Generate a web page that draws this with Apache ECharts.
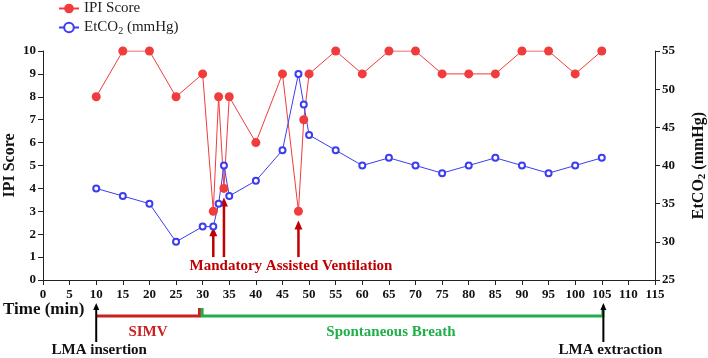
<!DOCTYPE html>
<html>
<head>
<meta charset="utf-8">
<script src="https://cdn.jsdelivr.net/npm/echarts@6/dist/echarts.min.js"></script>
<style>
html, body { margin: 0; padding: 0; background: #fff; }
#main { width: 708px; height: 358px; }
</style>
</head>
<body>
<div id="main"></div>
<script>
// time points (min)
var times = [10, 15, 20, 25, 30, 32, 33, 34, 35, 40, 45, 48, 49, 50, 55, 60, 65, 70, 75, 80, 85, 90, 95, 100, 105];
// IPI score (left axis)
var ipiScore = [8, 10, 10, 8, 9, 3, 8, 4, 8, 6, 9, 3, 7, 9, 10, 9, 10, 10, 9, 9, 9, 10, 10, 9, 10];
// EtCO2 mmHg (right axis)
var etco2 = [37, 36, 35, 30, 32, 32, 35, 40, 36, 38, 42, 52, 48, 44, 42, 40, 41, 40, 39, 40, 41, 40, 39, 40, 41];

// mandatory assisted ventilation arrows: time + tip (IPI units)
var mavTimes = [32, 34, 48];
var mavTips = [2.3, 3.6, 2.6];
// ventilation phases
var phaseNames = ['SIMV', 'Spontaneous Breath'];
var phaseStart = [10, 29.9];
var phaseEnd = [29.4, 105.2];
var phaseColors = ['#cc1f1f', '#1fb04a'];
// LMA events
var lmaNames = ['LMA insertion', 'LMA extraction'];
var lmaTimes = [10, 105.3];

var serif = '"Liberation Serif", "Times New Roman", serif';
var red = '#f03c3c';
var blue = '#3c3cf0';
var darkRed = '#c00000';

var chart = echarts.init(document.getElementById('main'));

function pairs(ys) {
  return times.map(function (t, i) { return [t, ys[i]]; });
}

chart.setOption({
  animation: false,
  textStyle: { fontFamily: serif },
  legend: {
    orient: 'vertical',
    left: 58,
    top: 1,
    padding: 0,
    itemWidth: 20,
    itemHeight: 12,
    itemGap: 4,
    textStyle: {
      fontFamily: serif, fontSize: 15, color: '#222',
      rich: {
        a: { fontFamily: serif, fontSize: 15, color: '#222' },
        s: { fontFamily: serif, fontSize: 10, color: '#222', padding: [7, 0, 0, 0] }
      }
    },
    formatter: function (name) {
      return name === 'EtCO2 (mmHg)' ? '{a|EtCO}{s|2}{a| (mmHg)}' : name;
    },
    data: ['IPI Score', 'EtCO2 (mmHg)']
  },
  grid: { left: 43, right: 53, top: 51, bottom: 78, outerBoundsMode: 'none', containLabel: false },
  xAxis: {
    type: 'value',
    min: 0,
    max: 115,
    interval: 5,
    axisLine: { lineStyle: { color: '#222', width: 1 } },
    axisTick: { length: 5, lineStyle: { color: '#222' } },
    axisLabel: { fontFamily: serif, fontWeight: 'bold', fontSize: 13, color: '#111', margin: 8 },
    splitLine: { show: false }
  },
  yAxis: [
    {
      type: 'value',
      min: 0,
      max: 10,
      interval: 1,
      name: 'IPI Score',
      nameLocation: 'middle',
      nameGap: 25,
      nameMoveOverlap: false,
      nameTextStyle: { fontFamily: serif, fontWeight: 'bold', fontSize: 16, color: '#111' },
      axisLine: { show: true, lineStyle: { color: '#222' } },
      axisTick: { show: true, length: 5, lineStyle: { color: '#222' } },
      axisLabel: { fontFamily: serif, fontWeight: 'bold', fontSize: 13, color: '#111', margin: 7 },
      splitLine: { show: false }
    },
    {
      type: 'value',
      min: 25,
      max: 55,
      interval: 5,
      position: 'right',
      name: '{a|EtCO}{s|2}{a| (mmHg)}',
      nameLocation: 'middle',
      nameGap: 34,
      nameMoveOverlap: false,
      nameTextStyle: {
        fontFamily: serif, fontWeight: 'bold', fontSize: 16, color: '#111',
        rich: {
          a: { fontFamily: serif, fontWeight: 'bold', fontSize: 16, color: '#111' },
          s: { fontFamily: serif, fontWeight: 'bold', fontSize: 11, color: '#111', padding: [8, 0, 0, 0] }
        }
      },
      axisLine: { show: true, lineStyle: { color: '#222' } },
      axisTick: { show: true, length: 5, lineStyle: { color: '#222' } },
      axisLabel: { fontFamily: serif, fontWeight: 'bold', fontSize: 13, color: '#111', margin: 7 },
      splitLine: { show: false }
    }
  ],
  series: [
    {
      name: 'IPI Score',
      type: 'line',
      yAxisIndex: 0,
      data: pairs(ipiScore),
      symbol: 'circle',
      symbolSize: 9,
      itemStyle: { color: red },
      lineStyle: { color: red, width: 1 }
    },
    {
      name: 'EtCO2 (mmHg)',
      type: 'line',
      yAxisIndex: 1,
      data: pairs(etco2),
      symbol: 'emptyCircle',
      symbolSize: 6,
      itemStyle: { color: blue, borderColor: blue, borderWidth: 2.5 },
      lineStyle: { color: blue, width: 1 }
    }
  ]
});

function xPx(t) { return chart.convertToPixel({ xAxisIndex: 0 }, t); }
function yPx(v) { return chart.convertToPixel({ yAxisIndex: 0 }, v); }

function arrow(x, yBottom, yTip, color, w, head) {
  return [
    { type: 'line', shape: { x1: x, y1: yBottom, x2: x, y2: yTip + head }, style: { stroke: color, lineWidth: w } },
    { type: 'polygon', shape: { points: [[x - head / 2, yTip + head + 1], [x + head / 2, yTip + head + 1], [x, yTip]] }, style: { fill: color } }
  ];
}

var g = [];
// mandatory ventilation arrows
mavTimes.forEach(function (t, i) {
  g = g.concat(arrow(xPx(t), yPx(1.0), yPx(mavTips[i]), darkRed, 2.5, 8));
});
g.push({
  type: 'text', x: 291, y: 266,
  style: { text: 'Mandatory Assisted Ventilation', fill: darkRed, font: 'bold 15px ' + serif, align: 'center', verticalAlign: 'middle' }
});

// axis title
g.push({
  type: 'text', x: 3, y: 310,
  style: { text: 'Time (min)', fill: '#111', font: 'bold 17px ' + serif, align: 'left', verticalAlign: 'middle' }
});

// phases
var bracketY = 316, hookY = 308;
phaseNames.forEach(function (name, i) {
  var x1 = xPx(phaseStart[i]), x2 = xPx(phaseEnd[i]);
  var pts = i === 0 ? [[x1, bracketY], [x2, bracketY], [x2, hookY]]
                    : [[x1, hookY], [x1, bracketY], [x2, bracketY], [x2, hookY]];
  g.push({ type: 'polyline', shape: { points: pts }, style: { stroke: phaseColors[i], lineWidth: 3, fill: null } });
  g.push({
    type: 'text', x: i === 0 ? 148 : 391, y: 332,
    style: { text: name, fill: phaseColors[i], font: 'bold 15px ' + serif, align: 'center', verticalAlign: 'middle' }
  });
});

// LMA events
lmaNames.forEach(function (name, i) {
  var x = xPx(lmaTimes[i]);
  g = g.concat(arrow(x, 342, 303, '#000', 2, 6));
  g.push({
    type: 'text', x: x + (i === 0 ? 3 : 7), y: 350,
    style: { text: name, fill: '#111', font: 'bold 15px ' + serif, align: 'center', verticalAlign: 'middle' }
  });
});

chart.setOption({ graphic: { elements: g } });
</script>
</body>
</html>
